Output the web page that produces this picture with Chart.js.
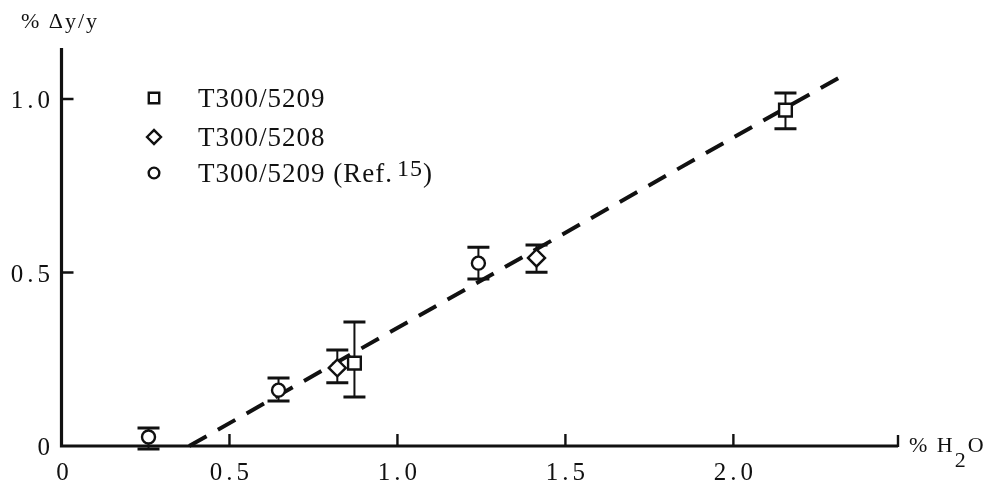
<!DOCTYPE html>
<html>
<head>
<meta charset="utf-8">
<script src="https://cdn.jsdelivr.net/npm/chart.js@4/dist/chart.umd.min.js"></script>
<style>
  html, body { margin: 0; padding: 0; background: #fff; }
  #wrap { width: 989px; height: 487px; position: relative; }
</style>
</head>
<body>
<div id="wrap"><canvas id="c"></canvas></div>
<script>
// Moisture pickup (% H2O) versus dimensional change (% Δy/y)
const seriesNames = ['T300/5209', 'T300/5208', 'T300/5209 (Ref. 15)'];

const squareX  = [0.872, 2.155];
const squareY  = [0.239, 0.968];
const squareLo = [0.141, 0.914];
const squareHi = [0.357, 1.017];

const diamondX  = [0.821, 1.414];
const diamondY  = [0.225, 0.542];
const diamondLo = [0.182, 0.501];
const diamondHi = [0.277, 0.579];

const circleX  = [0.259, 0.646, 1.241];
const circleY  = [0.026, 0.161, 0.527];
const circleLo = [-0.009, 0.130, 0.481];
const circleHi = [0.052, 0.196, 0.573];

// Straight-line fit through the data
const fitX = [0.38, 2.33];
const fitY = [0.0, 1.07];

const xTicks = [0, 0.5, 1.0, 1.5, 2.0];
const xTickLabels = ['0', '0.5', '1.0', '1.5', '2.0'];
const yTicks = [0, 0.5, 1.0];
const yTickLabels = ['0', '0.5', '1.0'];

const xAxisTitle = ['% H', '2', 'O'];
const yAxisTitle = '% \u0394y/y';

const INK = '#111';
const SERIF = '"Liberation Serif", "DejaVu Serif", serif';

const pts = (xs, ys) => xs.map((x, i) => ({ x: x, y: ys[i] }));

const markerStyle = [
  { pointStyle: 'rect', radius: 9, borderWidth: 2.4 },
  { pointStyle: 'rectRot', radius: 8.5, borderWidth: 2.4 },
  { pointStyle: 'circle', radius: 6.5, borderWidth: 2.4 }
];

const errorBars = [
  { lo: squareLo, hi: squareHi },
  { lo: diamondLo, hi: diamondHi },
  { lo: circleLo, hi: circleHi }
];

function spacedText(ctx, text, x, y, spacing) {
  ctx.letterSpacing = spacing + 'px';
  ctx.fillText(text, x, y);
  ctx.letterSpacing = '0px';
}

const axesPlugin = {
  id: 'typedAxes',
  beforeDatasetsDraw(chart) {
    const ctx = chart.ctx;
    const xs = chart.scales.x, ys = chart.scales.y;
    const a = chart.chartArea;
    ctx.save();
    ctx.strokeStyle = INK;
    ctx.lineCap = 'butt';
    // axis lines
    ctx.lineWidth = 3.2;
    ctx.beginPath();
    ctx.moveTo(a.left, a.top);
    ctx.lineTo(a.left, a.bottom);
    ctx.lineTo(a.right, a.bottom);
    ctx.stroke();
    // inward tick marks
    ctx.lineWidth = 2.4;
    ctx.beginPath();
    xs.ticks.forEach(t => {
      if (t.value === 0) return;
      const px = xs.getPixelForValue(t.value);
      ctx.moveTo(px, a.bottom);
      ctx.lineTo(px, a.bottom - 12);
    });
    ctx.moveTo(a.right, a.bottom + 1);
    ctx.lineTo(a.right, a.bottom - 11);
    ys.ticks.forEach(t => {
      if (t.value === 0) return;
      const py = ys.getPixelForValue(t.value);
      ctx.moveTo(a.left, py);
      ctx.lineTo(a.left + 12, py);
    });
    ctx.stroke();

    // error bars
    chart.data.datasets.forEach((ds, di) => {
      const eb = errorBars[di];
      if (!eb) return;
      ds.data.forEach((p, i) => {
        const px = xs.getPixelForValue(p.x);
        const top = ys.getPixelForValue(eb.hi[i]);
        const bot = ys.getPixelForValue(eb.lo[i]);
        ctx.lineWidth = 2;
        ctx.beginPath();
        ctx.moveTo(px, top);
        ctx.lineTo(px, bot);
        ctx.stroke();
        ctx.lineWidth = 3;
        ctx.beginPath();
        ctx.moveTo(px - 11, top);
        ctx.lineTo(px + 11, top);
        ctx.moveTo(px - 11, bot);
        ctx.lineTo(px + 11, bot);
        ctx.stroke();
      });
    });
    ctx.restore();
  },
  afterDraw(chart) {
    const ctx = chart.ctx;
    const xs = chart.scales.x, ys = chart.scales.y;
    const a = chart.chartArea;
    ctx.save();
    ctx.fillStyle = INK;

    // tick labels
    ctx.font = '25px ' + SERIF;
    ctx.textBaseline = 'alphabetic';
    ctx.textAlign = 'center';
    xs.ticks.forEach((t, i) => {
      const px = xs.getPixelForValue(t.value);
      spacedText(ctx, xTickLabels[i], px + (i === 0 ? 3 : 2), 480, 4);
    });
    ctx.textAlign = 'right';
    ys.ticks.forEach((t, i) => {
      const py = ys.getPixelForValue(t.value);
      spacedText(ctx, yTickLabels[i], 54, py + 9, 4);
    });

    // axis titles
    ctx.textAlign = 'left';
    ctx.font = '22px ' + SERIF;
    spacedText(ctx, yAxisTitle, 21, 28, 2);

    let tx = a.right + 11;
    ctx.font = '22px ' + SERIF;
    ctx.letterSpacing = '2px';
    ctx.fillText(xAxisTitle[0], tx, 452);
    tx += ctx.measureText(xAxisTitle[0]).width;
    ctx.fillText(xAxisTitle[1], tx, 467);
    tx += ctx.measureText(xAxisTitle[1]).width;
    ctx.fillText(xAxisTitle[2], tx, 452);
    ctx.letterSpacing = '0px';

    // legend
    const rows = [98, 137, 173];
    chart.data.datasets.forEach((ds, di) => {
      if (!markerStyle[di]) return;
      const y = rows[di];
      const ms = markerStyle[di];
      ctx.strokeStyle = INK;
      ctx.fillStyle = '#fff';
      ctx.lineWidth = ms.borderWidth;
      Chart.helpers.drawPoint(ctx, {
        pointStyle: ms.pointStyle,
        radius: ms.radius * 0.82,
        rotation: 0,
        borderWidth: ms.borderWidth
      }, 154, y);
      ctx.fillStyle = INK;
      ctx.font = '27px ' + SERIF;
      ctx.textAlign = 'left';
      const m = ds.label.match(/^(.*\(Ref\.)\s*(\d+)(\))$/);
      ctx.letterSpacing = '1px';
      if (m) {
        let lx = 198;
        ctx.fillText(m[1], lx, y + 9);
        lx += ctx.measureText(m[1]).width + 4;
        ctx.font = '24px ' + SERIF;
        ctx.fillText(m[2], lx, y + 3);
        lx += ctx.measureText(m[2]).width;
        ctx.font = '27px ' + SERIF;
        ctx.fillText(m[3], lx, y + 9);
      } else {
        ctx.fillText(ds.label, 198, y + 9);
      }
      ctx.letterSpacing = '0px';
    });
    ctx.restore();
  }
};

const pointDataset = (label, data, ms) => ({
  type: 'scatter',
  label: label,
  data: data,
  pointStyle: ms.pointStyle,
  pointRadius: ms.radius,
  pointBorderWidth: ms.borderWidth,
  pointBorderColor: INK,
  pointBackgroundColor: '#fff',
  showLine: false,
  clip: false,
  order: 1
});

new Chart(document.getElementById('c'), {
  type: 'scatter',
  data: {
    datasets: [
      pointDataset(seriesNames[0], pts(squareX, squareY), markerStyle[0]),
      pointDataset(seriesNames[1], pts(diamondX, diamondY), markerStyle[1]),
      pointDataset(seriesNames[2], pts(circleX, circleY), markerStyle[2]),
      {
        type: 'line',
        label: 'fit',
        data: pts(fitX, fitY),
        borderColor: INK,
        borderWidth: 4,
        borderDash: [20, 13],
        borderCapStyle: 'butt',
        pointRadius: 0,
        fill: false,
        clip: false,
        order: 10
      }
    ]
  },
  plugins: [axesPlugin],
  options: {
    responsive: true,
    maintainAspectRatio: false,
    animation: false,
    devicePixelRatio: 1,
    layout: { padding: { top: 48, right: 91, left: 0, bottom: 0 } },
    plugins: {
      legend: { display: false },
      tooltip: { enabled: false }
    },
    scales: {
      x: {
        type: 'linear',
        min: 0,
        max: 2.49,
        grid: { display: false },
        border: { display: false },
        ticks: { display: false },
        afterBuildTicks: s => { s.ticks = xTicks.map(v => ({ value: v })); },
        afterFit: s => { s.height = 41; }
      },
      y: {
        type: 'linear',
        min: 0,
        max: 1.147,
        grid: { display: false },
        border: { display: false },
        ticks: { display: false },
        afterBuildTicks: s => { s.ticks = yTicks.map(v => ({ value: v })); },
        afterFit: s => { s.width = 61.5; }
      }
    }
  }
});
</script>
</body>
</html>
